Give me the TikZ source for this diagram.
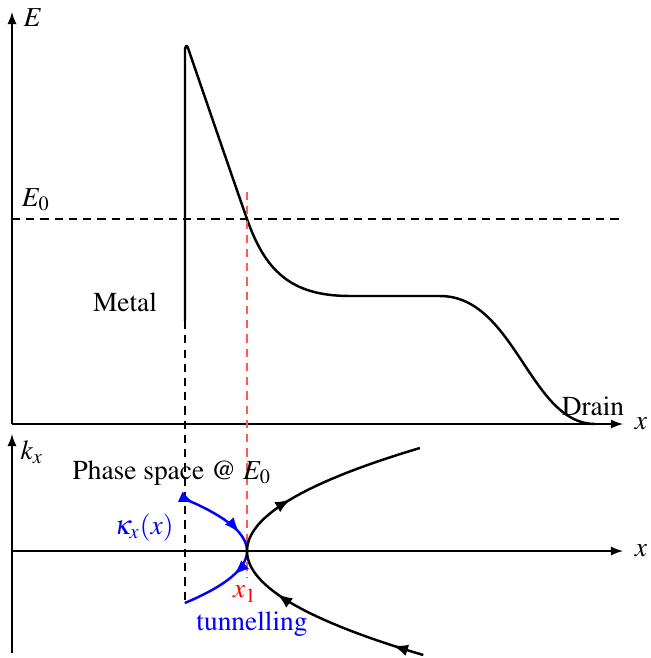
\documentclass[tikz,border=0pt]{standalone}
\usepackage[T1]{fontenc}
\usepackage{mathptmx}
\usetikzlibrary{calc,decorations.markings}

\tikzset{
  axis/.style = {line width=0.55pt, ->, >=latex},
  curve/.style = {line width=0.9pt, line join=round},
  guide/.style = {line width=0.55pt, dash pattern=on 3pt off 2.2pt},
  arrowsat/.style n args = {3}{postaction={decorate}, decoration={markings,
      mark=at position #1 with {\arrow{latex}},
      mark=at position #2 with {\arrow{latex}},
      mark=at position #3 with {\arrow{latex}}}}
}

\begin{document}
\begin{tikzpicture}[x = 0.365pt, y = -0.365pt]
    \useasboundingbox (0,0) rectangle (651,658);
    % Origins of both panels
    \coordinate (O1) at (12,424);
    \coordinate (O2) at (12,551);
    \coordinate (X1) at (247,551);

    % Draw axes of the energy panel
    \draw[axis] (O1) -- (12,12) coordinate (Etop);
    \draw[axis] (O1) -- (623,424) coordinate (xtop);
    \node (Elab) at (33,18) {$E$};
    \node (xlab1) at (641,424) {$x$};

    % Draw axes of the phase space panel
    \draw[axis] (12,653) -- (12,434) coordinate (ktop);
    \draw[axis] (O2) -- (623,551) coordinate (xbot);
    \node (klab) at (32,452) {$k_x$};
    \node (xlab2) at (641,551) {$x$};

    % Energy level
    \draw[guide] (12,219) -- (623,219);
    \node (E0lab) at (36,200) {$E_0$};

    % Draw the potential
    \draw[curve] (185,321) coordinate (W) -- (185,49)
        .. controls (186,45) and (187,45) .. (188,48)
        .. controls (199,80) and (235,185) .. (247,219) coordinate (T)
        .. controls (265,270) and (290,296) .. (350,296)
        -- (440,296)
        .. controls (515,296) and (530,424) .. (595,424);
    \node (metal) at (125,302) {Metal};
    \node (drain) at (593,406) {Drain};

    % Dashed guides down to the phase space
    \draw[guide] (W) -- (185,603);
    \draw[guide, red!65] (247,192) -- (247,577);

    % Phase space curves
    \draw[curve, blue, arrowsat={0.045}{0.37}{0.66}]
        plot[domain=51:-52, samples=50] ({247-0.023*\x*\x},{551-\x});
    \draw[curve, arrowsat={0.075}{0.375}{0.67}]
        plot[domain=-104:103, samples=60] ({247+0.0163*\x*\x},{551-\x});

    % Labels of the phase space
    \node (phase) at (172,473) {Phase space @ $E_0$};
    \node[blue] (kappa) at (144,528) {$\kappa_x(x)$};
    \node[red] (x1lab) at (245,594) {$x_1$};
    \node[blue] (tunnel) at (252,624) {tunnelling};
\end{tikzpicture}
\end{document}
